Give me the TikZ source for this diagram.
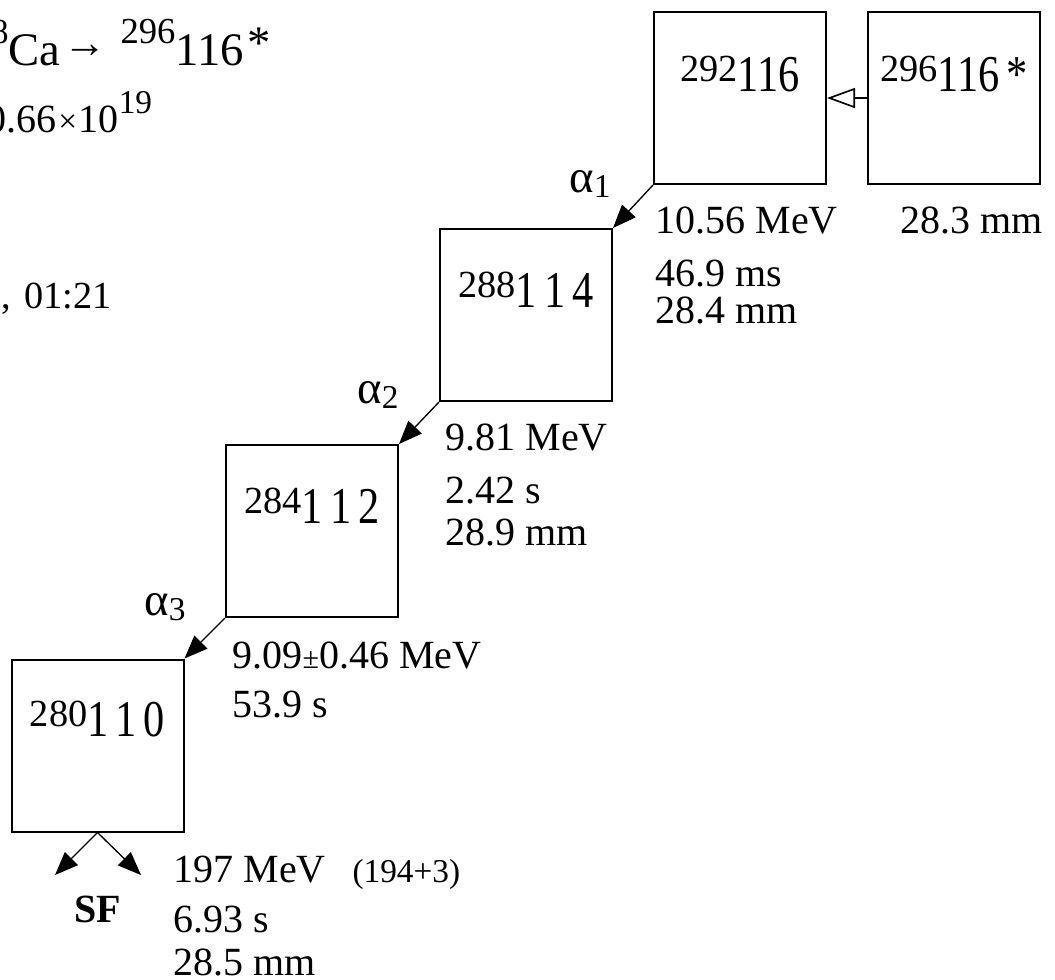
\documentclass[tikz,border=0pt]{standalone}
\usepackage{fontspec}
\setmainfont{Liberation Serif}
\usepackage{graphicx}
\usetikzlibrary{arrows.meta,positioning}
\newcommand{\nuclab}[2]{{\fontsize{11.5}{12}\selectfont\raisebox{3pt}{#1}}\scalebox{0.82}[1]{\fontsize{15.5}{16}\selectfont #2}}
\newcommand{\alab}[1]{α\raisebox{-1.5pt}{\fontsize{10}{10}\selectfont #1}}
\tikzset{
  nucbox/.style={rectangle, draw, line width=0.6pt, minimum size=51.6pt, inner sep=0pt},
  nuctext/.style={anchor=base, inner sep=0pt},
  infotext/.style={anchor=base west, align=left, inner sep=0pt, font=\fontsize{12}{12}\selectfont},
  headtext/.style={anchor=base west, inner sep=0pt},
  alphatext/.style={anchor=base, inner sep=0pt, font=\fontsize{14}{14}\selectfont},
  alphaarrow/.style={-{Triangle[length=7pt, width=5.5pt]}, line width=0.4pt},
  deexarrow/.style={-{Triangle[open, length=8.4pt, width=6pt]}, line width=0.5pt}
}

\begin{document}
\begin{tikzpicture}[x=0.3pt, y=-0.3pt]
\useasboundingbox (0,0) rectangle (1055,979);
\clip (0,0) rectangle (1055,979);
% reaction and run data (cut at the left edge)
\node[headtext, font=\fontsize{14}{14}\selectfont] (react) at (8,65) {\llap{\raisebox{6.6pt}{\fontsize{10.5}{10.5}\selectfont 48}}Ca\hspace{1pt}\raisebox{2.2pt}{\fontsize{13}{13}\selectfont →}\hspace{4pt}\raisebox{6.6pt}{\fontsize{11}{11}\selectfont 296}116\hspace{1pt}\raisebox{2pt}{*}};
\node[headtext, font=\fontsize{12}{12}\selectfont] (dose) at (6,132) {\llap{0}.66\hspace{0.5pt}{\fontsize{10}{10}\selectfont ×}\hspace{0.5pt}10\raisebox{5.7pt}{\fontsize{10}{10}\selectfont 19}};
\node[headtext, font=\fontsize{11.5}{11.5}\selectfont] (clock) at (1,308) {,\hspace{4pt}01:21};
% decay chain
\node[nucbox] (n296) at (954,98) {};
\node[nucbox] (n292) at (740,98) {};
\node[nucbox] (n288) at (526,315) {};
\node[nucbox] (n284) at (312,531) {};
\node[nucbox] (n280) at (97.5,745.5) {};
\node[nuctext] (t296) at ([yshift=2pt]n296.center) {\nuclab{296}{116\,*}};
\node[nuctext] (t292) at ([yshift=2pt]n292.center) {\nuclab{292}{116}};
\node[nuctext] (t288) at ([yshift=2.2pt]n288.center) {\nuclab{288}{1\,1\,4}};
\node[nuctext] (t284) at ([yshift=2.2pt]n284.center) {\nuclab{284}{1\,1\,2}};
\node[nuctext] (t280) at ([yshift=2.8pt]n280.center) {\nuclab{280}{1\,1\,0}};
\draw[deexarrow] (n296.west) -- (n292.east);
\draw[alphaarrow] (n292.south west) -- (n288.north east);
\draw[alphaarrow] (n288.south west) -- (n284.north east);
\draw[alphaarrow] (n284.south west) -- (n280.north east);
\coordinate (sfl) at (55,875);
\coordinate (sfr) at (141,875);
\draw[alphaarrow] (n280.south) -- (sfl);
\draw[alphaarrow] (n280.south) -- (sfr);
\node[alphatext] (a1) at (590,192) {\alab{1}};
\node[alphatext] (a2) at (378,403) {\alab{2}};
\node[alphatext] (a3) at (165,615) {\alab{3}};
\node[nuctext, font=\fontsize{12}{12}\selectfont\bfseries] (sf) at (98,922) {SF};
% energies, times, positions (anchor on the last line)
\node[infotext] (i296) at (900,233) {28.3 mm};
\node[infotext] (i292) at (655,323) {10.56 MeV\\[3.9pt]46.9 ms\\[-0.9pt]28.4 mm};
\node[infotext] (i288) at (445,545) {9.81 MeV\\[3.9pt]2.42 s\\[0.6pt]28.9 mm};
\node[infotext] (i284) at (232,717) {9.09{\fontsize{9}{9}\selectfont ±}0.46 MeV\\[2.7pt]53.9 s};
\node[infotext] (i280) at (173,975) {197 MeV\hspace{8pt}{\fontsize{10}{10}\selectfont (194+3)}\\[3pt]6.93 s\\[0.9pt]28.5 mm};
\end{tikzpicture}
\end{document}
